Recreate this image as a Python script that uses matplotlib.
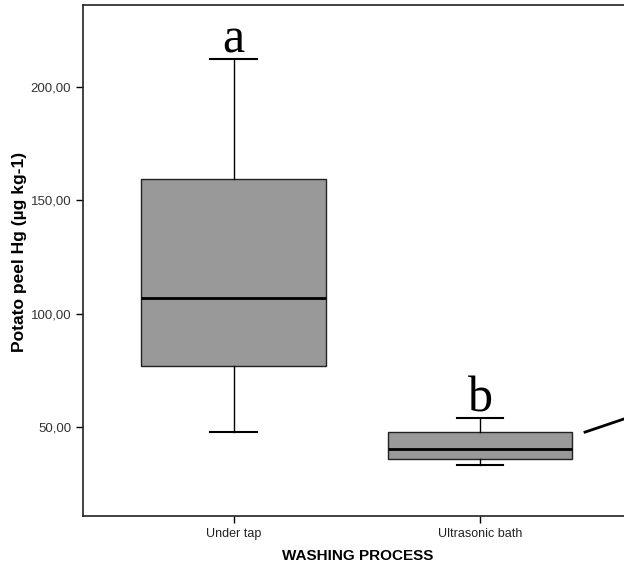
import matplotlib.pyplot as plt
from matplotlib.ticker import FuncFormatter

# boxplot summary
groups = ['Under tap', 'Ultrasonic bath']
whislo = [47.8, 33.3]
q1 = [77.0, 35.9]
med = [106.9, 40.3]
q3 = [159.4, 47.8]
whishi = [212.4, 54.0]
letters = ['a', 'b']

# part of a line running off the right edge
line_x = [1.426, 1.85]
line_y = [47.8, 63.4]

stats = []
for i in range(len(groups)):
    stats.append({'label': groups[i], 'whislo': whislo[i], 'q1': q1[i],
                  'med': med[i], 'q3': q3[i], 'whishi': whishi[i], 'fliers': []})

fig = plt.figure(figsize=(6.24, 5.64), dpi=100)
ax = fig.add_axes([0.133, 0.0851, 0.989, 0.906])

ax.bxp(stats, positions=[0, 1], widths=0.75, capwidths=0.19, patch_artist=True,
       showfliers=False,
       boxprops=dict(facecolor='#999999', edgecolor='#222222', linewidth=1.0),
       medianprops=dict(color='black', linewidth=2.0),
       whiskerprops=dict(color='black', linewidth=1.0),
       capprops=dict(color='black', linewidth=1.5))

ax.plot(line_x, line_y, color='black', linewidth=2.0, clip_on=False)

for i in range(len(groups)):
    ax.text(i, whishi[i] + 2.8, letters[i], ha='center', va='baseline',
            fontsize=36, family='Liberation Serif')

ax.set_xlim(-0.611, 1.893)
ax.set_ylim(10.8, 236.2)
ax.set_yticks([50, 100, 150, 200])
ax.yaxis.set_major_formatter(FuncFormatter(lambda v, p: ('%.2f' % v).replace('.', ',')))
ax.tick_params(axis='both', direction='out', length=5, width=1, color='black')
for lab in ax.get_yticklabels():
    lab.set_family(['Liberation Sans', 'DejaVu Sans'])
    lab.set_fontsize(9.5)
    lab.set_color('#333333')
for lab in ax.get_xticklabels():
    lab.set_family(['Liberation Sans Narrow', 'Liberation Sans', 'DejaVu Sans'])
    lab.set_fontsize(9)
    lab.set_color('#222222')

ax.set_ylabel('Potato peel Hg (µg kg-1)', fontsize=12.5, fontweight='bold',
              family=['Liberation Sans', 'DejaVu Sans'])
ax.yaxis.set_label_coords(-0.091, 0.517)
ax.set_xlabel('WASHING PROCESS', fontsize=11, fontweight='bold',
              family=['Liberation Sans Narrow', 'Liberation Sans', 'DejaVu Sans'])
ax.xaxis.set_label_coords((358 - 83) / 617.0, -0.065)

for s in ax.spines.values():
    s.set_linewidth(1.2)
    s.set_color('#222222')

fig.savefig('out.png', dpi=100)
